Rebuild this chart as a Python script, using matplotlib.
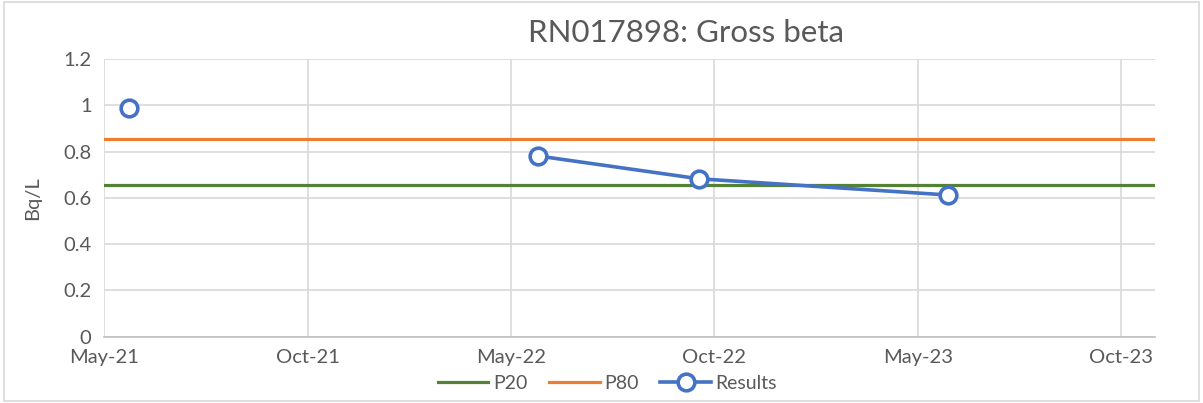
import matplotlib
matplotlib.use('agg')
import matplotlib.pyplot as plt
import matplotlib.dates as mdates
import numpy as np
import datetime as dt

# sample dates and gross beta results (Bq/L); NaN marks the gap in the series
result_dates = ['2021-05-23', '2021-11-15', '2022-05-25', '2022-10-17', '2023-05-28']
result_values = [0.988, np.nan, 0.782, 0.683, 0.613]

p20_value = 0.656
p80_value = 0.855

tick_labels = ['May-21', 'Oct-21', 'May-22', 'Oct-22', 'May-23', 'Oct-23']

plt.rcParams['font.family'] = ['Lato', 'DejaVu Sans']
text_col = '#595959'

fig = plt.figure(figsize=(12.03, 4.03), dpi=100)
ax = fig.add_axes([0.0865, 0.1645, 0.8735, 0.6885])

start = dt.datetime(2021, 5, 1)
step = 182.6
x_start = mdates.date2num(start)
ticks = [x_start + k * step for k in range(len(tick_labels))]

x = mdates.date2num([dt.datetime.strptime(d, '%Y-%m-%d') for d in result_dates])

ax.axhline(p20_value, color='#548235', lw=2.3, label='P20', zorder=3)
ax.axhline(p80_value, color='#ED7D31', lw=2.3, label='P80', zorder=3)
ax.plot(x, result_values, color='#4472C4', lw=2.6, marker='o', markersize=12,
        markerfacecolor='white', markeredgewidth=2.6, label='Results', zorder=4)

ax.set_xlim(x_start, x_start + 943)
ax.set_ylim(0, 1.2)
ax.set_xticks(ticks)
ax.set_xticklabels(tick_labels)
ax.set_yticks(np.arange(0, 1.21, 0.2))
ax.set_yticklabels(['0', '0.2', '0.4', '0.6', '0.8', '1', '1.2'])

ax.grid(True, color='#d9d9d9', lw=1.2)
ax.set_axisbelow(True)
for s in ['top', 'right', 'left']:
    ax.spines[s].set_visible(False)
ax.spines['bottom'].set_color('#bfbfbf')
ax.spines['bottom'].set_linewidth(1.2)
ax.tick_params(length=0, labelsize=14.5, colors=text_col, pad=9)

ax.set_ylabel('Bq/L', fontsize=14.5, color=text_col, labelpad=16)
fig.text(0.570, 0.918, 'RN017898: Gross beta', fontsize=22.5, color=text_col,
         ha='center', va='center')

leg = fig.legend(loc='center', bbox_to_anchor=(0.505, 0.048), ncol=3, frameon=False,
                 fontsize=14, handlelength=2.6, columnspacing=1.1, handletextpad=0.25,
                 borderpad=0.1)
for t in leg.get_texts():
    t.set_color(text_col)

fig.patches.append(plt.Rectangle((0.003, 0.006), 0.994, 0.988, transform=fig.transFigure,
                                 fill=False, edgecolor='#d9d9d9', lw=1.2))

plt.savefig('out.png', dpi=100)
